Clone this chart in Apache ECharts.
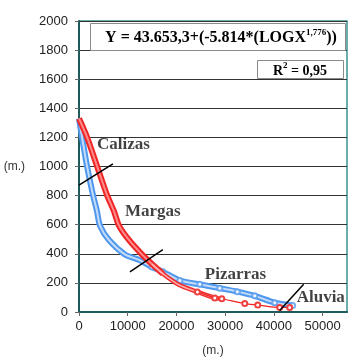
<!DOCTYPE html>
<html><head><meta charset="utf-8">
<script src="https://cdn.jsdelivr.net/npm/echarts@6/dist/echarts.min.js"></script>
<style>html,body{margin:0;padding:0;background:#fff}#c{width:349px;height:362px}</style>
</head><body><div id="c"></div>
<script>
// Blue series (distance m, elevation m)
const blueX = [0, 615, 1639, 2869, 3689, 4303, 6148, 9426, 12500, 14959, 17213, 20700, 24795, 28893, 32500, 36066, 40164, 43852];
const blueY = [1330, 1203, 1004, 805, 693, 594, 495, 396, 355, 309, 276, 216, 190, 164, 140, 111, 64, 44];
// Red series
const redX = [0, 1639, 3689, 5738, 7172, 8197, 10246, 12910, 14959, 17213, 20500, 24300, 27869, 29303, 34016, 36680, 41189, 43238];
const redY = [1330, 1203, 1004, 805, 693, 594, 495, 396, 330, 263, 187, 138, 97, 91, 58, 48, 31, 31];
// Boundary segments
const calizasLine = [[0, 872], [6967, 1018]];
const margasLine = [[10451, 276], [17213, 428]];
const aluviaLine = [[41189, 11], [46107, 190]];
// Zone labels
const zoneNames = ['Calizas', 'Margas', 'Pizarras', 'Aluvia'];
const zoneX = [3689, 9426, 25820, 44672];
const zoneY = [1150, 687, 256, 97];
const xTicks = [0, 10000, 20000, 30000, 40000, 50000];
const equation = ['Y = 43.653,3+(-5.814*(LOGX', '1,776', '))'];
const r2Text = ['R', '2', ' = 0,95'];

const zip = (xs, ys) => xs.map((x, i) => [x, ys[i]]);
const blue = zip(blueX, blueY);
const red = zip(redX, redY);
const redDense = red.filter(p => p[0] <= 17213);
const redMid = red.filter(p => p[0] >= 14959 && p[0] <= 29303);
const redTail = red.filter(p => p[0] >= 24300);
const blueSparse = blue.filter(p => p[0] >= 14959);

const chart = echarts.init(document.getElementById('c'), null, {renderer: 'canvas'});
const serifB = {fontFamily: 'Liberation Serif', fontWeight: 'bold', color: '#111'};
chart.setOption({
  animation: false,
  grid: {left: 79, right: 2, top: 21, bottom: 40, show: true, borderColor: '#3a9292', borderWidth: 1.5, backgroundColor: '#fff'},
  xAxis: {
    type: 'value', min: 0, max: 55000, interval: 10000,
    name: '(m.)', nameLocation: 'middle', nameGap: 33,
    nameTextStyle: {fontFamily: 'Liberation Sans', fontSize: 12, color: '#333'},
    axisLine: {show: true, lineStyle: {color: '#1e5a5a', width: 2}},
    axisTick: {show: true, inside: false, length: 4, lineStyle: {color: '#666'}},
    axisLabel: {margin: 8, fontFamily: 'Liberation Sans', fontSize: 13, color: '#222', showMaxLabel: false,
      formatter: v => xTicks.includes(v) ? String(v) : ''},
    splitLine: {show: false}
  },
  yAxis: {
    type: 'value', min: 0, max: 2000, interval: 200,
    name: '(m.)', nameLocation: 'middle', nameGap: 54, nameRotate: 0,
    nameTextStyle: {fontFamily: 'Liberation Sans', fontSize: 12, color: '#333'},
    axisLine: {show: true, lineStyle: {color: '#1e5a5a', width: 2}},
    axisTick: {show: true, inside: false, length: 4, lineStyle: {color: '#666'}},
    axisLabel: {margin: 11, fontFamily: 'Liberation Sans', fontSize: 13, color: '#222', formatter: v => String(v)},
    splitLine: {show: true, lineStyle: {color: '#333', width: 1}}
  },
  series: [
    {type: 'line', data: blue, smooth: 0.25, symbol: 'none', z: 3,
      lineStyle: {color: '#4f98ee', width: 6}},
    {type: 'line', data: blue, smooth: 0.25, symbol: 'none', z: 4,
      lineStyle: {color: '#c4dcf8', width: 2}},
    {type: 'scatter', data: blueSparse, symbol: 'emptyCircle', symbolSize: 5, z: 5,
      itemStyle: {color: '#5a9cec', borderColor: '#4a8fe6', borderWidth: 1}},
    {type: 'line', data: redDense, smooth: 0.25, symbol: 'none', z: 6,
      lineStyle: {color: '#f02525', width: 6}},
    {type: 'line', data: redDense, smooth: 0.25, symbol: 'none', z: 7,
      lineStyle: {color: '#ff8a8a', width: 2}},
    {type: 'line', data: redMid, smooth: 0.25, symbol: 'none', z: 6,
      lineStyle: {color: '#f03030', width: 4.5}},
    {type: 'line', data: redMid, smooth: 0.25, symbol: 'none', z: 7,
      lineStyle: {color: '#ffb4b4', width: 1.5}},
    {type: 'line', data: redTail, smooth: 0.25, symbol: 'emptyCircle', symbolSize: 5, z: 7,
      lineStyle: {color: '#f02020', width: 1.2},
      itemStyle: {color: '#f04040', borderColor: '#f04040', borderWidth: 1}},
    {type: 'line', data: calizasLine, symbol: 'none', z: 8, lineStyle: {color: '#000', width: 1.5}},
    {type: 'line', data: margasLine, symbol: 'none', z: 8, lineStyle: {color: '#000', width: 1.5}},
    {type: 'line', data: aluviaLine, symbol: 'none', z: 8, lineStyle: {color: '#000', width: 1.5}},
    {type: 'scatter', data: zoneX.map((x, i) => [x, zoneY[i], zoneNames[i]]), symbolSize: 0, z: 9,
      label: {show: true, position: 'right', distance: 0, formatter: p => p.data[2],
        fontFamily: 'Liberation Serif', fontWeight: 'bold', fontSize: 17, color: '#111'}}
  ],
  graphic: [
    {type: 'rect', z: 20, shape: {x: 90.5, y: 23.5, width: 255, height: 27},
      style: {fill: '#fff', stroke: '#8a8a8a', lineWidth: 1}},
    {type: 'text', z: 21, x: 221, y: 37,
      style: {text: '{a|' + equation[0] + '}{s|' + equation[1] + '}{a|' + equation[2] + '}',
        align: 'center', verticalAlign: 'middle',
        rich: {a: Object.assign({fontSize: 16, lineHeight: 18, verticalAlign: 'bottom'}, serifB),
               s: Object.assign({fontSize: 9, lineHeight: 18, verticalAlign: 'top'}, serifB)}}},
    {type: 'rect', z: 20, shape: {x: 257.5, y: 60.5, width: 86, height: 18},
      style: {fill: '#fff', stroke: '#8a8a8a', lineWidth: 1}},
    {type: 'text', z: 21, x: 300, y: 69.5,
      style: {text: '{a|' + r2Text[0] + '}{s|' + r2Text[1] + '}{a|' + r2Text[2] + '}',
        align: 'center', verticalAlign: 'middle',
        rich: {a: Object.assign({fontSize: 14, lineHeight: 17, verticalAlign: 'bottom'}, serifB),
               s: Object.assign({fontSize: 9, lineHeight: 17, verticalAlign: 'top'}, serifB)}}}
  ]
});
</script></body></html>
